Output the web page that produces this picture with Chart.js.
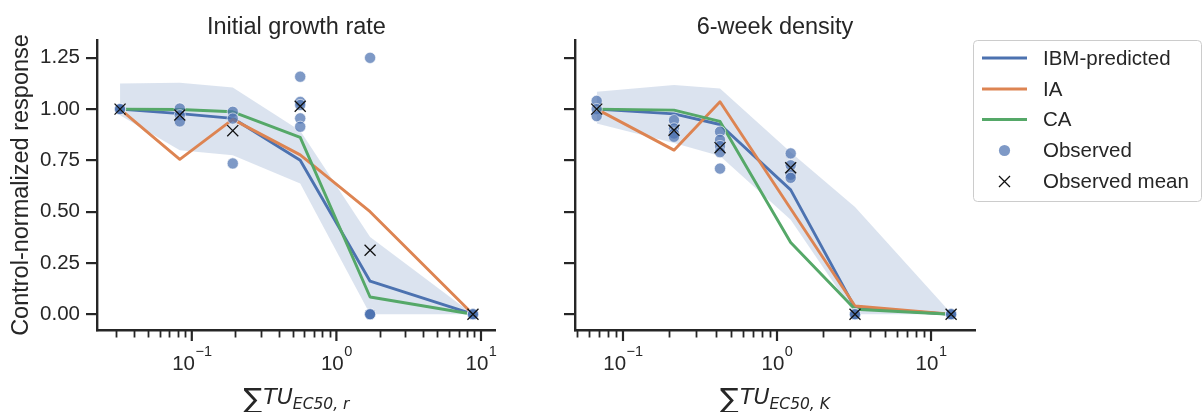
<!DOCTYPE html>
<html>
<head>
<meta charset="utf-8">
<script src="https://cdn.jsdelivr.net/npm/chart.js@4.4.1/dist/chart.umd.min.js"></script>
<style>
  html, body { margin: 0; padding: 0; background: #ffffff; }
  #wrap { position: relative; width: 1203px; height: 412px; overflow: hidden; }
  canvas { position: absolute; top: 0; }
  #growth { left: 0; }
  #density { left: 505px; }
</style>
</head>
<body>
<div id="wrap">
  <canvas id="growth" width="505" height="412"></canvas>
  <canvas id="density" width="698" height="412"></canvas>
</div>
<script>
// ---- Initial growth rate ----
const growthConc      = [0.0319, 0.0826, 0.192, 0.562, 1.71, 8.8];
const growthIBM       = [1.00, 0.978, 0.955, 0.751, 0.161, 0.00];
const growthIA        = [1.00, 0.755, 0.950, 0.777, 0.500, 0.00];
const growthCA        = [1.00, 0.998, 0.987, 0.862, 0.084, 0.00];
const growthBandHigh  = [1.125, 1.128, 1.106, 0.895, 0.376, 0.00];
const growthBandLow   = [0.970, 0.800, 0.775, 0.637, 0.000, 0.00];
const growthObserved  = [
  [1.00, 1.00, 1.00],
  [1.003, 0.970, 0.940],
  [0.987, 0.954, 0.735],
  [1.158, 1.035, 1.020, 0.955, 0.914],
  [1.25, 0.00, 0.00, 0.00],
  [0.00, 0.00, 0.00]
];
const growthMean      = [1.00, 0.971, 0.895, 1.014, 0.312, 0.00];

// ---- 6-week density ----
const densityConc     = [0.0675, 0.2144, 0.4266, 1.227, 3.21, 13.5];
const densityIBM      = [1.00, 0.977, 0.925, 0.606, 0.031, 0.00];
const densityIA       = [1.00, 0.800, 1.036, 0.514, 0.040, 0.00];
const densityCA       = [1.00, 0.995, 0.940, 0.350, 0.024, 0.00];
const densityBandHigh = [1.085, 1.117, 1.100, 0.790, 0.523, 0.005];
const densityBandLow  = [0.930, 0.835, 0.772, 0.460, 0.000, 0.000];
const densityObserved = [
  [1.04, 1.00, 0.966],
  [0.946, 0.906, 0.881, 0.865],
  [0.89, 0.85, 0.82, 0.79, 0.71],
  [0.784, 0.726, 0.680, 0.665],
  [0.00, 0.00, 0.00],
  [0.00, 0.00, 0.00]
];
const densityMean     = [1.00, 0.897, 0.812, 0.714, 0.00, 0.00];

// ---- axes ----
const yTickValues   = [0, 0.25, 0.5, 0.75, 1.0, 1.25];
const xMajorTicks   = [0.1, 1, 10];
const xMajorLabels  = [['10', '\u22121'], ['10', '0'], ['10', '1']];
const seriesNames   = ['IBM-predicted', 'IA', 'CA', 'Observed', 'Observed mean'];

const INK = '#262626';
const SANS = '"Liberation Sans", Arial, sans-serif';
const MATH = '"DejaVu Sans", sans-serif';
const C_BLUE = '#4c72b0', C_ORANGE = '#dd8452', C_GREEN = '#55a868';

const pairs = (xs, ys) => xs.map((x, i) => ({ x: x, y: ys[i] }));
const flatObs = (xs, groups) => groups.flatMap((g, i) => g.map(v => ({ x: xs[i], y: v })));

function buildDatasets(xs, high, low, ibm, ia, ca, obs, mean) {
  const lineBase = { pointRadius: 0, borderWidth: 2.9, tension: 0, borderJoinStyle: 'round', fill: false };
  return [
    { data: pairs(xs, low), borderWidth: 0, pointRadius: 0, fill: false, order: 20 },
    { data: pairs(xs, high), borderWidth: 0, pointRadius: 0, fill: '-1',
      backgroundColor: 'rgba(76,114,176,0.2)', order: 19 },
    Object.assign({ label: seriesNames[0], legendKind: 'line', data: pairs(xs, ibm), borderColor: C_BLUE, order: 8 }, lineBase),
    Object.assign({ label: seriesNames[1], legendKind: 'line', data: pairs(xs, ia), borderColor: C_ORANGE, order: 7 }, lineBase),
    Object.assign({ label: seriesNames[2], legendKind: 'line', data: pairs(xs, ca), borderColor: C_GREEN, order: 6 }, lineBase),
    { label: seriesNames[3], legendKind: 'dot', data: flatObs(xs, obs), showLine: false,
      pointRadius: 5.6, pointBorderWidth: 0.8, pointBorderColor: 'rgba(255,255,255,0.75)',
      pointBackgroundColor: 'rgba(76,114,176,0.72)', order: 3 },
    { label: seriesNames[4], legendKind: 'cross', data: pairs(xs, mean), showLine: false,
      pointStyle: 'crossRot', pointRadius: 7.8, pointBorderWidth: 1.3, pointBorderColor: '#111111',
      order: 1 }
  ];
}

// titles, log-axis ticks, axis labels
const panelDecor = {
  id: 'panelDecor',
  afterDraw(chart, args, opts) {
    const ctx = chart.ctx;
    const area = chart.chartArea;
    const xs = chart.scales.x;
    const cx = (area.left + area.right) / 2;
    ctx.save();
    ctx.fillStyle = INK;
    ctx.strokeStyle = INK;

    // panel title
    ctx.font = '23.5px ' + SANS;
    ctx.textAlign = 'center';
    ctx.textBaseline = 'alphabetic';
    ctx.fillText(opts.title, cx, 34);

    // minor ticks on the log axis
    const yb = area.bottom;
    ctx.lineWidth = 1.8;
    for (let e = -3; e <= 2; e++) {
      for (let k = 2; k <= 9; k++) {
        const v = k * Math.pow(10, e);
        if (v <= xs.min || v >= xs.max) continue;
        const px = Math.round(xs.getPixelForValue(v)) + 0.5;
        ctx.beginPath(); ctx.moveTo(px, yb); ctx.lineTo(px, yb + 7.5); ctx.stroke();
      }
    }
    // major ticks + labels
    ctx.lineWidth = 2.2;
    xMajorTicks.forEach((v, i) => {
      const px = xs.getPixelForValue(v);
      ctx.beginPath(); ctx.moveTo(px, yb); ctx.lineTo(px, yb + 11); ctx.stroke();
      const [base, sup] = xMajorLabels[i];
      ctx.font = '20.5px ' + SANS;
      const wb = ctx.measureText(base).width;
      ctx.font = '14.5px ' + SANS;
      const ws = ctx.measureText(sup).width;
      let x0 = px - (wb + ws) / 2;
      ctx.textAlign = 'left';
      ctx.font = '20.5px ' + SANS;
      ctx.fillText(base, x0, yb + 40);
      ctx.font = '14.5px ' + SANS;
      ctx.fillText(sup, x0 + wb + 0.5, yb + 26);
    });

    // x axis label: sum of toxic units
    const sumFont = '28px ' + MATH;
    const mainFont = 'italic 22px ' + MATH;
    const subFont = 'italic 15.5px ' + MATH;
    ctx.font = sumFont; const w1 = ctx.measureText('\u2211').width;
    ctx.font = mainFont; const w2 = ctx.measureText('TU').width;
    ctx.font = subFont; const w3 = ctx.measureText(opts.xSub).width;
    let lx = cx - (w1 + 1 + w2 + w3) / 2;
    ctx.textAlign = 'left';
    ctx.font = sumFont; ctx.fillText('\u2211', lx, 408); lx += w1 + 1;
    ctx.font = mainFont; ctx.fillText('TU', lx, 404); lx += w2;
    ctx.font = subFont; ctx.fillText(opts.xSub, lx, 409);

    // y axis label
    if (opts.yLabel) {
      ctx.save();
      ctx.translate(22, (area.top + area.bottom) / 2);
      ctx.rotate(-Math.PI / 2);
      ctx.textAlign = 'center';
      ctx.textBaseline = 'middle';
      ctx.font = '23.5px ' + SANS;
      ctx.fillText(opts.yLabel, 0, 0);
      ctx.restore();
    }
    ctx.restore();
  }
};

// legend box to the right of the density panel
const sideLegend = {
  id: 'sideLegend',
  afterDraw(chart, args, opts) {
    if (!opts.show) return;
    const ctx = chart.ctx;
    const bx = 468.5, by = 40.5, bw = 228, bh = 161, r = 4;
    ctx.save();
    ctx.beginPath();
    ctx.moveTo(bx + r, by);
    ctx.lineTo(bx + bw - r, by); ctx.arcTo(bx + bw, by, bx + bw, by + r, r);
    ctx.lineTo(bx + bw, by + bh - r); ctx.arcTo(bx + bw, by + bh, bx + bw - r, by + bh, r);
    ctx.lineTo(bx + r, by + bh); ctx.arcTo(bx, by + bh, bx, by + bh - r, r);
    ctx.lineTo(bx, by + r); ctx.arcTo(bx, by, bx + r, by, r);
    ctx.closePath();
    ctx.fillStyle = 'rgba(255,255,255,0.8)';
    ctx.fill();
    ctx.strokeStyle = '#cccccc';
    ctx.lineWidth = 1;
    ctx.stroke();

    const items = chart.data.datasets.filter(d => d.legendKind);
    const rowY = [58, 89, 119.5, 150.5, 181.5];
    const hx0 = 477, hx1 = 522, hc = 499.5, tx = 538;
    items.forEach((d, i) => {
      const y = rowY[i];
      if (d.legendKind === 'line') {
        ctx.strokeStyle = d.borderColor;
        ctx.lineWidth = 2.9;
        ctx.beginPath(); ctx.moveTo(hx0, y); ctx.lineTo(hx1, y); ctx.stroke();
      } else if (d.legendKind === 'dot') {
        ctx.fillStyle = d.pointBackgroundColor;
        ctx.beginPath(); ctx.arc(hc, y, 5.6, 0, Math.PI * 2); ctx.fill();
      } else {
        ctx.strokeStyle = d.pointBorderColor;
        ctx.lineWidth = 1.3;
        const h = 5.5;
        ctx.beginPath();
        ctx.moveTo(hc - h, y - h); ctx.lineTo(hc + h, y + h);
        ctx.moveTo(hc + h, y - h); ctx.lineTo(hc - h, y + h);
        ctx.stroke();
      }
      ctx.fillStyle = INK;
      ctx.font = '20.5px ' + SANS;
      ctx.textAlign = 'left';
      ctx.textBaseline = 'middle';
      ctx.fillText(d.label, tx, y + 1);
    });
    ctx.restore();
  }
};

function makePanel(canvasId, cfg) {
  return new Chart(document.getElementById(canvasId), {
    type: 'line',
    data: { datasets: buildDatasets(cfg.xs, cfg.high, cfg.low, cfg.ibm, cfg.ia, cfg.ca, cfg.obs, cfg.mean) },
    options: {
      responsive: false,
      animation: false,
      events: [],
      layout: { padding: { left: 0, top: 40, right: cfg.padRight, bottom: 0 } },
      plugins: {
        legend: { display: false },
        tooltip: { enabled: false },
        title: { display: false },
        panelDecor: { title: cfg.title, xSub: cfg.xSub, yLabel: cfg.yLabel },
        sideLegend: { show: cfg.legend }
      },
      scales: {
        x: {
          type: 'logarithmic',
          min: cfg.xMin, max: cfg.xMax,
          position: 'bottom',
          grid: { display: false, drawTicks: false },
          border: { display: true, color: INK, width: 2.4 },
          ticks: { display: false },
          afterFit: s => { s.height = 412 - 330; }
        },
        y: {
          type: 'linear',
          min: -0.077, max: 1.337,
          position: 'left',
          grid: { display: true, drawOnChartArea: false, drawTicks: true, tickLength: 11,
                  lineWidth: 2.2, tickWidth: 2.2, tickColor: INK, color: INK },
          border: { display: true, color: INK, width: 2.4 },
          ticks: { display: cfg.yTickLabels, padding: 6, color: INK,
                   font: { family: SANS, size: 20.5 },
                   callback: v => Number(v).toFixed(2) },
          afterBuildTicks: s => { s.ticks = yTickValues.map(v => ({ value: v })); },
          afterFit: s => { s.width = cfg.axisLeft; }
        }
      }
    },
    plugins: [panelDecor, sideLegend]
  });
}

makePanel('growth', {
  xs: growthConc, high: growthBandHigh, low: growthBandLow,
  ibm: growthIBM, ia: growthIA, ca: growthCA, obs: growthObserved, mean: growthMean,
  xMin: 0.0221, xMax: 12.68, axisLeft: 97, padRight: 8,
  title: 'Initial growth rate', xSub: 'EC50, r', yLabel: 'Control-normalized response',
  yTickLabels: true, legend: false
});

makePanel('density', {
  xs: densityConc, high: densityBandHigh, low: densityBandLow,
  ibm: densityIBM, ia: densityIA, ca: densityCA, obs: densityObserved, mean: densityMean,
  xMin: 0.0488, xMax: 19.3, axisLeft: 70, padRight: 228,
  title: '6-week density', xSub: 'EC50, K', yLabel: '',
  yTickLabels: false, legend: true
});
</script>
</body>
</html>
